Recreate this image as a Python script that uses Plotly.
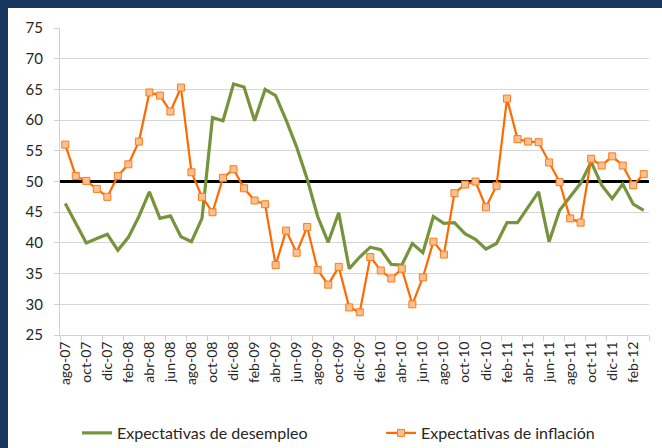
import plotly.graph_objects as go

months = ["ago-07","sep-07","oct-07","nov-07","dic-07","ene-08","feb-08","mar-08","abr-08","may-08","jun-08","jul-08",
          "ago-08","sep-08","oct-08","nov-08","dic-08","ene-09","feb-09","mar-09","abr-09","may-09","jun-09","jul-09",
          "ago-09","sep-09","oct-09","nov-09","dic-09","ene-10","feb-10","mar-10","abr-10","may-10","jun-10","jul-10",
          "ago-10","sep-10","oct-10","nov-10","dic-10","ene-11","feb-11","mar-11","abr-11","may-11","jun-11","jul-11",
          "ago-11","sep-11","oct-11","nov-11","dic-11","ene-12","feb-12","mar-12"]

desempleo = [46.4, 43.2, 40.0, 40.7, 41.4, 38.8, 40.9, 44.3, 48.3, 44.0, 44.4, 41.0,
             40.2, 44.0, 60.4, 59.9, 65.9, 65.4, 59.9, 65.0, 64.0, 60.0, 55.6, 50.4,
             44.3, 40.1, 44.9, 35.8, 37.7, 39.3, 38.9, 36.5, 36.4, 39.9, 38.4, 44.3,
             43.2, 43.3, 41.5, 40.6, 39.0, 39.9, 43.3, 43.3, 45.9, 48.3, 40.2, 45.3,
             47.5, 49.7, 53.2, 49.4, 47.2, 49.6, 46.3, 45.3]

inflacion = [56.0, 50.9, 50.1, 48.8, 47.5, 50.9, 52.8, 56.5, 64.5, 64.0, 61.4, 65.3,
             51.5, 47.5, 45.0, 50.6, 52.0, 48.9, 46.9, 46.3, 36.4, 42.0, 38.4, 42.6,
             35.6, 33.2, 36.1, 29.5, 28.7, 37.7, 35.5, 34.2, 35.8, 30.0, 34.4, 40.2,
             38.1, 48.1, 49.5, 50.0, 45.8, 49.3, 63.5, 56.9, 56.5, 56.4, 53.1, 49.9,
             44.0, 43.3, 53.7, 52.6, 54.1, 52.6, 49.4, 51.2]

reference_level = 50
y_ticks = [25, 30, 35, 40, 45, 50, 55, 60, 65, 70, 75]

x = list(range(len(months)))
label_idx = x[::2]
label_txt = [months[i] for i in label_idx]
x_lo, x_hi = x[0] - 0.5, x[-1] + 0.5

FONT = "Lato, 'Open Sans', sans-serif"
NAVY = "#17375E"

fig = go.Figure()
# reference line at 50 (drawn first, under the series)
fig.add_trace(go.Scatter(
    x=[x_lo, x_hi], y=[reference_level, reference_level], mode="lines",
    line=dict(color="black", width=3.2), showlegend=False, hoverinfo="skip", cliponaxis=False,
))
fig.add_trace(go.Scatter(
    x=x, y=desempleo, mode="lines", name="Expectativas de desempleo",
    line=dict(color="#77933C", width=3.2), legend="legend",
))
fig.add_trace(go.Scatter(
    x=x, y=inflacion, mode="lines+markers", name="Expectativas de inflación",
    line=dict(color="#FF6A00", width=2.2),
    marker=dict(symbol="square", size=7, color="#FAC090", line=dict(color="#FF7A1A", width=1)),
    legend="legend2",
))

# navy frame on left and top
fig.add_shape(type="rect", xref="paper", yref="paper", x0=-60/589, x1=-52/589, y0=-113/307, y1=335/307,
              fillcolor=NAVY, line=dict(width=0), layer="above")
fig.add_shape(type="rect", xref="paper", yref="paper", x0=-60/589, x1=602/589, y0=327/307, y1=335/307,
              fillcolor=NAVY, line=dict(width=0), layer="above")

leg_common = dict(orientation="h", y=-98/307, yanchor="middle", xanchor="left",
                  font=dict(size=16, color="#262626", family=FONT), itemwidth=30,
                  bgcolor="rgba(0,0,0,0)")

fig.update_layout(
    width=662, height=448,
    margin=dict(l=60, r=13, t=28, b=113, autoexpand=False),
    paper_bgcolor="white", plot_bgcolor="white",
    font=dict(family=FONT, size=14, color="#262626"),
    showlegend=True,
    legend=dict(x=17/589, **leg_common),
    legend2=dict(x=321/589, **leg_common),
    xaxis=dict(range=[x_lo, x_hi], tickmode="array", tickvals=label_idx, ticktext=label_txt,
               tickangle=-90, ticks="", showgrid=False, showline=True, linecolor="#D0D0D0", linewidth=1,
               zeroline=False, tickfont=dict(size=14, family=FONT), automargin=False,
               minor=dict(tick0=-0.5, dtick=2, ticks="outside", ticklen=5, tickcolor="#D0D0D0", showgrid=False)),
    yaxis=dict(range=[25, 75], tickmode="array", tickvals=y_ticks, showgrid=True, gridcolor="#D6D6D6",
               gridwidth=1, showline=True, linecolor="#D0D0D0", ticks="outside", ticklen=5, tickcolor="#D0D0D0",
               zeroline=False, tickfont=dict(size=15, family=FONT), ticklabelstandoff=8, automargin=False),
)

fig.write_html("out.html", config={"displayModeBar": False},
               post_script="document.body.style.margin='0';document.body.style.overflow='hidden';")
